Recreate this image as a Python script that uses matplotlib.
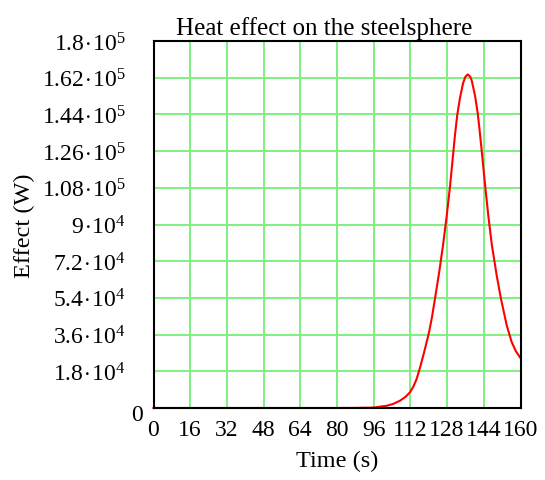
import matplotlib
matplotlib.use("Agg")
import matplotlib.pyplot as plt
import matplotlib.transforms as mtransforms

plt.rcParams['font.family'] = ['Liberation Serif', 'DejaVu Serif']
plt.rcParams['mathtext.fontset'] = 'custom'
plt.rcParams['mathtext.rm'] = 'Liberation Serif'
plt.rcParams['mathtext.it'] = 'Liberation Serif:italic'
plt.rcParams['mathtext.bf'] = 'Liberation Serif:bold'

# Heat flow into the steel sphere over time
time_s = [0, 40, 80, 88, 95.8, 101.7, 104.5, 107.5, 110, 111.8, 113.3, 114.7,
          116.2, 117.9, 120.1, 121.4, 122.7, 124.6, 126.3, 127.8, 129.3, 130.5,
          131.4, 132.4, 133.6, 135, 136, 137, 138, 138.7, 140.2, 141.3, 142.1,
          143.1, 144.5, 146, 147.5, 149.7, 151.5, 154, 156.1, 158, 160]
effect_w = [0, 0, 0, 40, 200, 1100, 2000, 3600, 5600, 7700, 10500, 14200,
            19800, 27000, 37000, 44500, 53500, 67000, 80500, 94000, 109000, 123000,
            133500, 143500, 152000, 159500, 162500, 163600, 162600, 160800, 153000,
            145000, 137000, 126000, 110000, 94000, 80000, 64500, 53500, 40500,
            32500, 27800, 24500]

x_ticks = [0, 16, 32, 48, 64, 80, 96, 112, 128, 144, 160]
y_ticks = [0, 1.8e4, 3.6e4, 5.4e4, 7.2e4, 9e4, 1.08e5, 1.26e5, 1.44e5, 1.62e5, 1.8e5]


def sci_label(mant, exp):
    return r'$%s\hspace{0.07}{\cdot}\hspace{0.07}10^{%d}$' % (mant, exp)


y_tick_labels = ['0',
                 sci_label('1.8', 4), sci_label('3.6', 4), sci_label('5.4', 4),
                 sci_label('7.2', 4), sci_label('9', 4), sci_label('1.08', 5),
                 sci_label('1.26', 5), sci_label('1.44', 5), sci_label('1.62', 5),
                 sci_label('1.8', 5)]

fig = plt.figure(figsize=(5.45, 4.81), dpi=100)
ax = fig.add_axes([153.5 / 545, 1 - 409 / 481, 367 / 545, 367 / 481])

ax.plot(time_s, effect_w, color='#ff0000', lw=1.5, zorder=3, clip_on=False,
        solid_joinstyle='round')

ax.set_xlim(0, 160)
ax.set_ylim(0, 1.8e5)
ax.set_xticks(x_ticks)
ax.set_xticklabels([str(v) for v in x_ticks])
ax.set_yticks(y_ticks)
ax.set_yticklabels(y_tick_labels)
ax.tick_params(axis='both', length=0, labelsize=17)
ax.tick_params(axis='y', pad=20)
ax.tick_params(axis='x', pad=8)

ax.grid(True, color='#80f080', lw=1.4, zorder=1)
ax.set_axisbelow(True)
for s in ax.spines.values():
    s.set_linewidth(1.5)
    s.set_color('black')
    s.set_zorder(4)

# the plain zero sits closer to the axis and a little lower
zero_lbl = ax.get_yticklabels()[0]
zero_lbl.set_transform(zero_lbl.get_transform() +
                       mtransforms.ScaledTranslation(17 / 100, -4 / 100, fig.dpi_scale_trans))

ax.set_title('Heat effect on the steelsphere', fontsize=18, x=0.466, pad=5)
ax.set_xlabel('Time (s)', fontsize=17.5, labelpad=7)
ax.set_ylabel('Effect (W)', fontsize=17.5, labelpad=5)

fig.savefig('out.png', dpi=100)
